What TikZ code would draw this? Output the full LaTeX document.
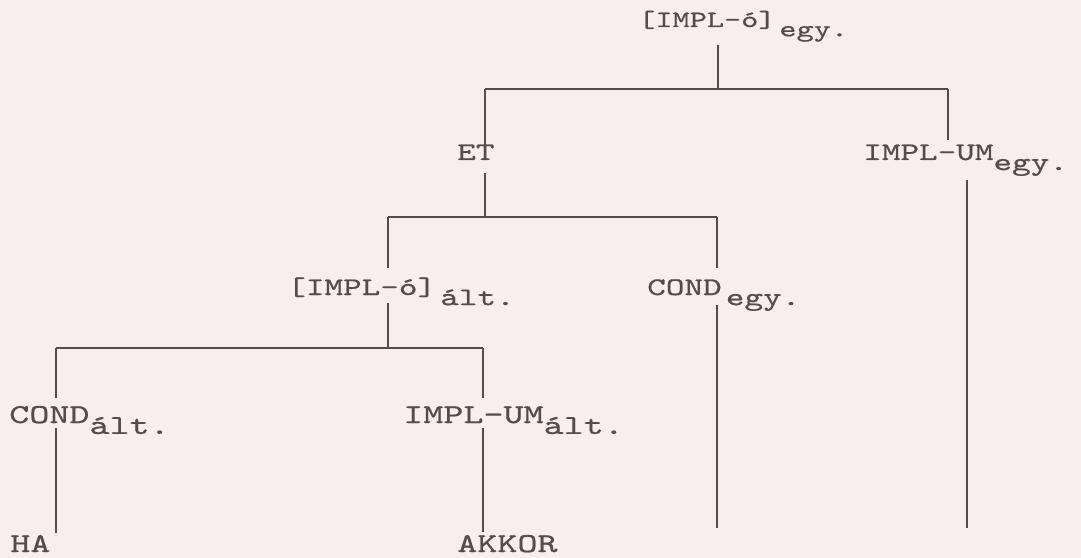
\documentclass[tikz,border=0pt]{standalone}
\usepackage{fontspec}
\setmonofont{lmmono10-regular.otf}[FakeStretch=1.4,FakeBold=0.6]
\usetikzlibrary{positioning,calc}
\definecolor{papier}{HTML}{F7EFEF}
\definecolor{encre}{HTML}{544C4C}
\newcommand\indice[1]{\raisebox{-0.4em}{#1}}

\begin{document}
\begin{tikzpicture}[x=0.025cm, y=-0.025cm,
  every node/.style={font=\ttfamily\fontsize{18}{20}\selectfont, text=encre, inner sep=0pt, anchor=base west},
  petit/.style={font=\ttfamily\fontsize{16.6}{18}\selectfont},
  grand/.style={font=\ttfamily\fontsize{19.4}{22}\selectfont},
  ag/.style={draw=encre, line width=0.8pt}]
  \fill[papier] (0,0) rectangle (1081,558);
  \useasboundingbox (0,0) rectangle (1081,558);
  % noeuds de l'arbre
  \node[petit] (racine) at (638,27) {[IMPL-ó]\,\indice{egy.}};
  \node (et) at (457,160) {ET};
  \node (umegy) at (863,160) {IMPL-UM\indice{egy.}};
  \node (oalt) at (287,295) {[IMPL-ó]\,\indice{ált.}};
  \node (condegy) at (647,295) {COND\,\indice{egy.}};
  \node[grand] (condalt) at (9,423) {COND\indice{ált.}};
  \node[grand] (umalt) at (403,423) {IMPL-UM\indice{ált.}};
  \node[grand] (ha) at (10,552) {HA};
  \node[grand] (akkor) at (457,552) {AKKOR};
  % embranchements
  \coordinate (k1) at (718,89);
  \coordinate (k1g) at (485,89);
  \coordinate (k1d) at (948,89);
  \coordinate (k2) at (485,217);
  \coordinate (k2g) at (388,217);
  \coordinate (k2d) at (717,217);
  \coordinate (k3) at (388,348);
  \coordinate (k3g) at (56,348);
  \coordinate (k3d) at (483,348);
  \coordinate (fin1) at (717,528);
  \coordinate (fin2) at (967,528);
  % niveau 1
  \draw[ag] ($(racine.base -| k1)+(0,18)$) -- (k1);
  \draw[ag] (k1g) -- (k1d);
  \draw[ag] (k1g) -- (k1g |- et.base);
  \draw[ag] (k1d) -- ($(umegy.base -| k1d)+(0,-20)$);
  \draw[ag] ($(umegy.base -| fin2)+(0,20)$) -- (fin2);
  % niveau 2
  \draw[ag] ($(et.base -| k2)+(0,13)$) -- (k2);
  \draw[ag] (k2g) -- (k2d);
  \draw[ag] (k2g) -- ($(oalt.base -| k2g)+(0,-27)$);
  \draw[ag] (k2d) -- ($(condegy.base -| k2d)+(0,-27)$);
  \draw[ag] ($(condegy.base -| fin1)+(0,10)$) -- (fin1);
  % niveau 3
  \draw[ag] ($(oalt.base -| k3)+(0,8)$) -- (k3);
  \draw[ag] (k3g) -- (k3d);
  \draw[ag] (k3g) -- ($(condalt.base -| k3g)+(0,-25)$);
  \draw[ag] (k3d) -- ($(umalt.base -| k3d)+(0,-25)$);
  \draw[ag] ($(condalt.base -| k3g)+(0,5)$) -- ($(ha.base -| k3g)+(0,-19)$);
  \draw[ag] ($(umalt.base -| k3d)+(0,5)$) -- ($(akkor.base -| k3d)+(0,-20)$);
\end{tikzpicture}
\end{document}
